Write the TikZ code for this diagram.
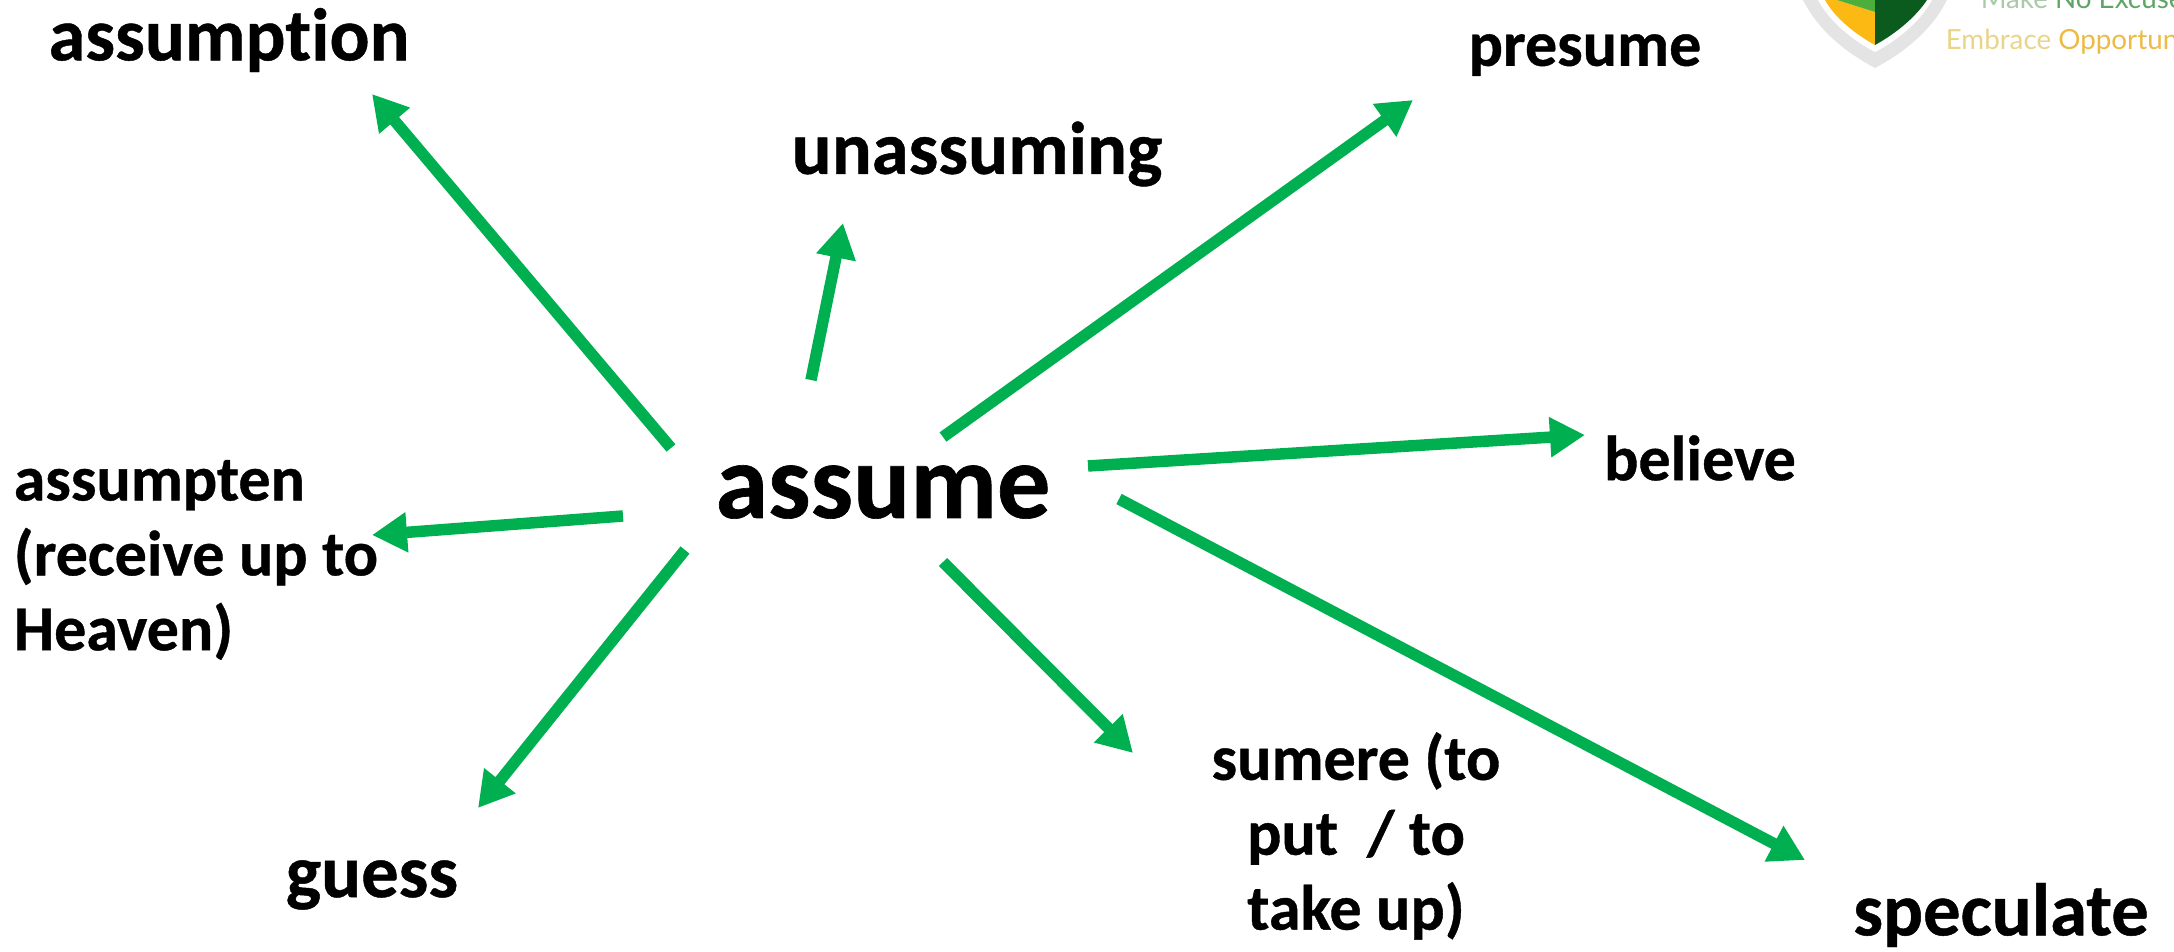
\documentclass[tikz,border=0pt]{standalone}
\usepackage{fontspec}
\setmainfont[Ligatures=CommonOff, BoldFeatures={FakeBold=.6}]{Carlito}
\newfontfamily\logofont{Lato}
\usetikzlibrary{arrows.meta}
\definecolor{arrowgreen}{HTML}{00B050}
\definecolor{shieldgray}{HTML}{E4E4E4}
\definecolor{shieldyellow}{HTML}{FDB913}
\definecolor{shieldlight}{HTML}{4CAF3C}
\definecolor{shielddark}{HTML}{0B5A1E}
\definecolor{logomakecol}{HTML}{A9C9A8}
\definecolor{logoexcusecol}{HTML}{5DA564}
\definecolor{logoembracecol}{HTML}{E8D58A}
\definecolor{logoopportcol}{HTML}{EDBB45}
\tikzset{
	wordbig/.style={font=\fontsize{30.3}{36}\selectfont\bfseries},
	wordmid/.style={font=\fontsize{21.2}{26}\selectfont\bfseries},
	wordsmall/.style={font=\fontsize{18.2}{21.3}\selectfont\bfseries},
	logotext/.style={font=\fontsize{7.9}{10}\logofont, anchor=base west, inner sep=0pt},
	wordarrow/.style={-{Triangle[length=.35cm,width=.38cm]}}
}
\begin{document}
\begin{tikzpicture}[x=.01cm, y=-.01cm, line width = .115cm, draw = arrowgreen]
			\clip (0,0) rectangle (2174,952);
			\fill [shieldgray] (1803,0) .. controls (1818,30) and (1845,52) .. (1875,68) .. controls (1905,52) and (1932,30) .. (1947,0) -- cycle;
			\fill [white] (1818,0) .. controls (1830,22) and (1852,40) .. (1875,52) .. controls (1898,40) and (1920,22) .. (1932,0) -- cycle;
			\fill [shieldyellow] (1825,0) .. controls (1835,18) and (1855,34) .. (1875,45) -- (1875,12) -- (1837,0) -- cycle;
			\fill [shieldlight] (1837,0) -- (1875,12) -- (1875,0) -- cycle;
			\fill [shielddark] (1875,0) -- (1875,45) .. controls (1895,34) and (1915,18) .. (1927,0) -- cycle;
			\node [logotext] (logomake) at (1975,9) {\textcolor{logomakecol}{Make} \textcolor{logoexcusecol}{No Excuse}};
			\node [logotext] (logoembrace) at (1940,50) {\textcolor{logoembracecol}{Embrace} \textcolor{logoopportcol}{Opportun}};
			\node [wordbig] (assume) at (883,492) {assume};
			\node [wordmid] (assumption) at (229,40) {assumption};
			\node [wordmid] (unassuming) at (977,154) {unassuming};
			\node [wordsmall] (presume) at (1585,55) {presume};
			\node [wordsmall] (believe) at (1700,458) {believe};
			\node [wordsmall, anchor=west, inner sep=0pt, align=left] (assumpten) at (8,560) {assumpten\\(receive up to\\Heaven)};
			\node [wordmid] (guess) at (372,885) {guess};
			\node [wordsmall, align=center] (sumere) at (1356,836) {sumere (to\\put~ / to\\take up)};
			\node [wordmid] (speculate) at (2001,915) {speculate};
			\draw [wordarrow] ([shift={(-212,-44)}]assume.center) -- ([shift={(143,54)}]assumption.center);
			\draw [wordarrow] ([shift={(-72,-112)}]assume.center) -- ([shift={(-134,69)}]unassuming.center);
			\draw [wordarrow] ([shift={(60,-55)}]assume.center) -- ([shift={(-172,45)}]presume.center);
			\draw [wordarrow] ([shift={(205,-26)}]assume.center) -- ([shift={(-115,-23)}]believe.center);
			\draw [wordarrow] ([shift={(236,7)}]assume.center) -- ([shift={(-196,-55)}]speculate.center);
			\draw [wordarrow] ([shift={(60,70)}]assume.center) -- ([shift={(-223,-83)}]sumere.center);
			\draw [wordarrow] ([shift={(-198,58)}]assume.center) -- ([shift={(106,-77)}]guess.center);
			\draw [wordarrow] ([shift={(-260,24)}]assume.center) -- ([shift={(364,-25)}]assumpten.west);
			\end{tikzpicture}
\end{document}
